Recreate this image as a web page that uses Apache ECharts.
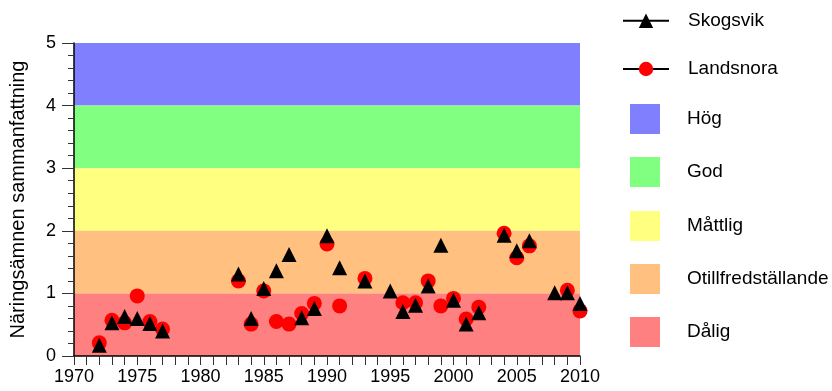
<!DOCTYPE html>
<html>
<head>
<meta charset="utf-8">
<script src="https://cdn.jsdelivr.net/npm/echarts@6/dist/echarts.min.js"></script>
<style>
html,body{margin:0;padding:0;background:#fff;}
#chart{width:832px;height:391px;}
</style>
</head>
<body>
<div id="chart"></div>
<script>
// ---- data ----
var skogsvikYears = [1972,1973,1974,1975,1976,1977,1983,1984,1985,1986,1987,1988,1989,1990,1991,1993,1995,1996,1997,1998,1999,2000,2001,2002,2004,2005,2006,2008,2009,2010];
var skogsvikValues = [0.17,0.53,0.63,0.60,0.52,0.40,1.31,0.60,1.08,1.36,1.62,0.61,0.76,1.92,1.41,1.20,1.04,0.71,0.81,1.12,1.77,0.89,0.51,0.69,1.93,1.68,1.84,1.01,1.01,0.84];
var landsnoraYears = [1972,1973,1974,1975,1976,1977,1983,1984,1985,1986,1987,1988,1989,1990,1991,1993,1996,1997,1998,1999,2000,2001,2002,2004,2005,2006,2009,2010];
var landsnoraValues = [0.21,0.57,0.53,0.96,0.55,0.43,1.20,0.51,1.04,0.55,0.51,0.68,0.84,1.79,0.80,1.24,0.85,0.85,1.20,0.80,0.92,0.59,0.78,1.96,1.57,1.76,1.05,0.72];
var bandNames = ['Hög','God','Måttlig','Otillfredställande','Dålig'];
var bandLow = [4,3,2,1,0];
var bandHigh = [5,4,3,2,1];
var bandColors = ['#8080FF','#80FF80','#FFFF80','#FFC080','#FF8080'];
var yTitle = 'Näringsämnen sammanfattning';

var FONT = 'Liberation Sans, Arial, sans-serif';
function pairs(xs, ys){ return xs.map(function(x,i){ return [x, ys[i]]; }); }

var series = [];
bandNames.forEach(function(n,i){
  series.push({
    name: n, type: 'scatter', data: [], z: 1,
    itemStyle: {color: bandColors[i], opacity: 1},
    markArea: {
      silent: true,
      itemStyle: {color: bandColors[i], opacity: 1},
      data: [[{yAxis: bandLow[i]}, {yAxis: bandHigh[i]}]]
    }
  });
});
series.push({
  name: 'Landsnora', type: 'line', z: 3,
  data: pairs(landsnoraYears, landsnoraValues),
  symbol: 'circle', symbolSize: 15, showAllSymbol: true,
  itemStyle: {color: '#FF0000'},
  lineStyle: {width: 0, opacity: 0},
  clip: true
});
series.push({
  name: 'Skogsvik', type: 'line', z: 4,
  data: pairs(skogsvikYears, skogsvikValues),
  symbol: 'triangle', symbolSize: 15, showAllSymbol: true,
  itemStyle: {color: '#000000'},
  lineStyle: {width: 0, opacity: 0},
  clip: true
});

function lineLegend(name, center){
  return {
    data: [name], orient: 'vertical', left: 622, top: center - 10, padding: 0,
    itemWidth: 46, itemHeight: 18, selectedMode: false,
    lineStyle: {color: '#000', width: 2, opacity: 1},
    textStyle: {fontFamily: FONT, fontSize: 19, color: '#000', lineHeight: 20, padding: [0,0,0,14]}
  };
}
function boxLegend(name, center){
  return {
    data: [{name: name, icon: 'rect', itemStyle: {opacity: 1}}], orient: 'vertical', left: 630, top: center - 15, padding: 0,
    itemWidth: 30, itemHeight: 30, selectedMode: false,
    itemStyle: {opacity: 1},
    textStyle: {fontFamily: FONT, fontSize: 19, color: '#000', lineHeight: 20, padding: [0,0,0,22]}
  };
}
var boxCenters = [119,172,226,279,332];
var legends = [lineLegend('Skogsvik', 20.7), lineLegend('Landsnora', 69)];
bandNames.forEach(function(n,i){ legends.push(boxLegend(n, boxCenters[i])); });

var chart = echarts.init(document.getElementById('chart'), null, {renderer: 'canvas'});
chart.setOption({
  animation: false,
  backgroundColor: '#fff',
  textStyle: {fontFamily: FONT},
  grid: {left: 72, right: 252, top: 43, bottom: 35},
  legend: legends,
  xAxis: {
    type: 'value', min: 1970, max: 2010, interval: 5, z: 10,
    axisLine: {show: true, onZero: false, lineStyle: {color: '#000', width: 1.5}},
    axisTick: {show: true, length: 9, lineStyle: {color: '#333'}},
    minorTick: {show: true, splitNumber: 5, length: 9, lineStyle: {color: '#333'}},
    splitLine: {show: false},
    axisLabel: {fontFamily: FONT, fontSize: 18, color: '#000', margin: 12, formatter: function(v){ return String(v); }}
  },
  yAxis: {
    type: 'value', min: 0, max: 5, interval: 1, z: 10,
    name: yTitle, nameLocation: 'middle', nameGap: 46, nameRotate: 90,
    nameTextStyle: {fontFamily: FONT, fontSize: 20, color: '#000'},
    axisLine: {show: true, onZero: false, lineStyle: {color: '#000', width: 1.5}},
    axisTick: {show: true, length: 12, lineStyle: {color: '#333'}},
    minorTick: {show: true, splitNumber: 5, length: 6, lineStyle: {color: '#333'}},
    splitLine: {show: false},
    axisLabel: {fontFamily: FONT, fontSize: 18, color: '#000', margin: 18}
  },
  series: series
});
</script>
</body>
</html>
